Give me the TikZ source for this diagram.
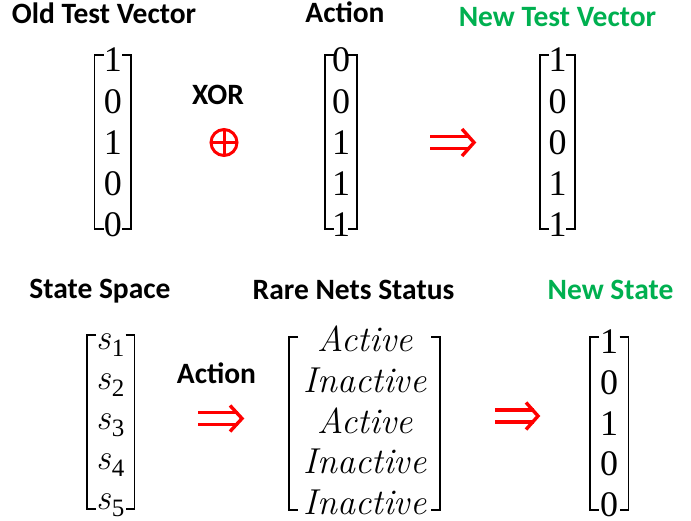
\documentclass[tikz,border=0pt]{standalone}
\usepackage{fontspec}
\newfontfamily\hf{Carlito}
\newfontfamily\df{Liberation Serif}
\definecolor{offgreen}{RGB}{0,176,80}
\definecolor{offred}{RGB}{255,0,0}
\tikzset{
  head/.style={font=\hf\bfseries\fontsize{29.5}{31}\selectfont, anchor=base, inner sep=0pt},
  greenhead/.style={head, text=offgreen},
  ent/.style={font=\df\fontsize{36}{36}\selectfont, anchor=base, inner sep=0pt},
  word/.style={font=\fontsize{36}{36}\selectfont\itshape, anchor=base, inner sep=0pt},
  brk/.style={line width=1.8pt, line cap=butt, line join=miter},
  dbl/.style={offred, line width=3.4pt},
  xorsym/.style={offred, line width=3pt}
}
\newcommand{\lbrk}[3]{\draw[brk] (#1+9,#2) -- (#1,#2) -- (#1,#3) -- (#1+9,#3);}
\newcommand{\rbrk}[3]{\draw[brk] (#1-9,#2) -- (#1,#2) -- (#1,#3) -- (#1-9,#3);}
\newcommand{\sv}[1]{{\rmfamily\itshape s}\kern1pt\raisebox{-0.2em}{\fontsize{25}{25}\selectfont #1}}
\begin{document}
\begin{tikzpicture}[x=1pt,y=-1pt]
\useasboundingbox (0,0) rectangle (691,521);
% headers
\node[head] (h1) at (104,24) {Old Test Vector};
\node[head] (h2) at (345,23) {Action};
\node[greenhead] (h3) at (557.5,26.5) {New Test Vector};
\node[head] (xor) at (218,105) {XOR};
\node[head] (h4) at (100,299) {State Space};
\node[head] (h5) at (216.5,383) {Action};
\node[head] (h6) at (353.5,300) {Rare Nets Status};
\node[greenhead] (h7) at (610.5,300) {New State};
% top matrix 1
\lbrk{94.5}{55}{229}\rbrk{131.2}{55}{229}
\foreach \v [count=\i] in {1,0,1,0,0}
  \node[ent] (a\i) at (112.8,{72+41.25*(\i-1)}) {\v};
% top matrix 2
\lbrk{325}{55}{229}\rbrk{357}{55}{229}
\foreach \v [count=\i] in {0,0,1,1,1}
  \node[ent] (b\i) at (341,{72+41.25*(\i-1)}) {\v};
% top matrix 3
\lbrk{540}{55}{229}\rbrk{575}{55}{229}
\foreach \v [count=\i] in {1,0,0,1,1}
  \node[ent] (c\i) at (557.5,{72+41.25*(\i-1)}) {\v};
% XOR symbol
\coordinate (xo) at (224,142.5);
\draw[xorsym] (xo) circle[radius=13pt];
\draw[xorsym] ([xshift=-13pt]xo) -- ([xshift=13pt]xo);
\draw[xorsym] ([yshift=-13pt]xo) -- ([yshift=13pt]xo);
% top implies arrow
\draw[dbl] (430,136.5) -- (470,136.5);
\draw[dbl] (430,148.5) -- (470,148.5);
\draw[dbl, line join=miter] (462,129) -- (474,142.5) -- (462,156);
% bottom matrix s
\lbrk{87}{335}{509}\rbrk{134.5}{335}{509}
\foreach \i in {1,...,5}
  \node[ent] (s\i) at (110.5,{349+40*(\i-1)}) {\sv{\i}};
% bottom left arrow
\draw[dbl] (198,412.5) -- (238,412.5);
\draw[dbl] (198,424.5) -- (238,424.5);
\draw[dbl, line join=miter] (230,405.5) -- (242,418.5) -- (230,431.5);
% rare nets status
\lbrk{289}{337}{510}\rbrk{440}{337}{510}
\foreach \v [count=\i] in {Active,Inactive,Active,Inactive,Inactive}
  \node[word] (r\i) at (365,{352+40.5*(\i-1)}) {\v};
% bottom right arrow
\draw[dbl] (495,410) -- (534,410);
\draw[dbl] (495,422) -- (534,422);
\draw[dbl, line join=miter] (526,402.5) -- (538,416) -- (526,429.5);
% new state
\lbrk{590}{337}{510}\rbrk{628.5}{337}{510}
\foreach \v [count=\i] in {1,0,1,0,0}
  \node[ent] (n\i) at (609,{354+40.5*(\i-1)}) {\v};
\end{tikzpicture}
\end{document}
